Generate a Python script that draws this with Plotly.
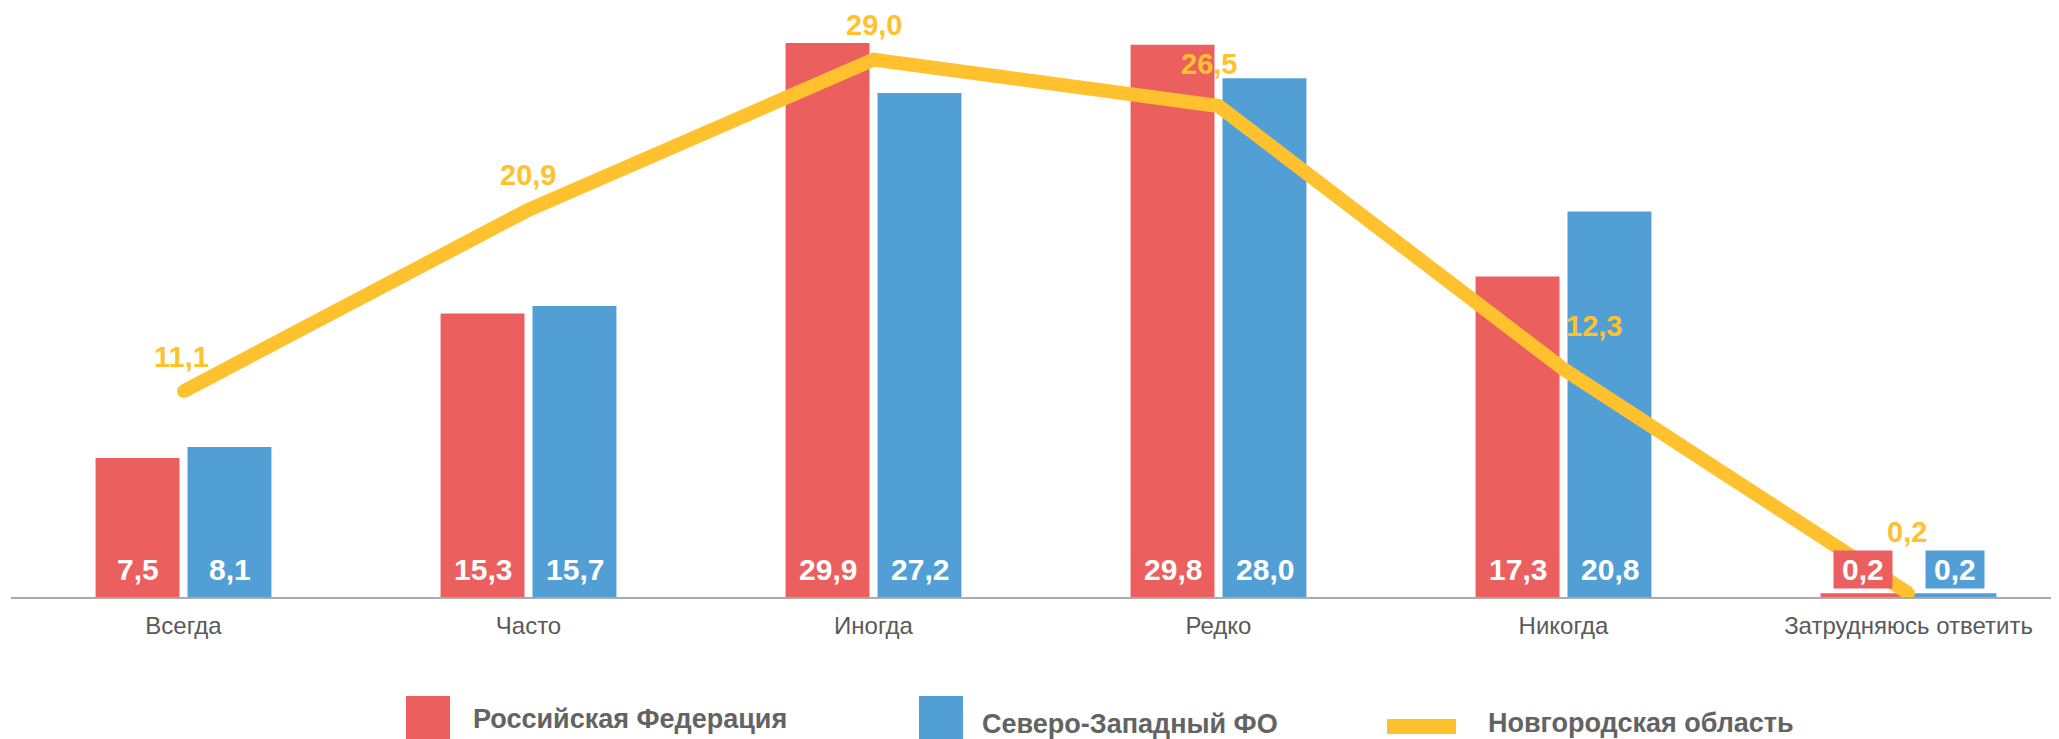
import plotly.graph_objects as go

categories = ["Всегда", "Часто", "Иногда", "Редко", "Никогда", "Затрудняюсь ответить"]
rf_values = [7.5, 15.3, 29.9, 29.8, 17.3, 0.2]
szfo_values = [8.1, 15.7, 27.2, 28.0, 20.8, 0.2]
nov_values = [11.1, 20.9, 29.0, 26.5, 12.3, 0.2]
series_names = ["Российская Федерация", "Северо-Западный ФО", "Новгородская область"]

RED = "#EB5F5F"
BLUE = "#529FD6"
YEL = "#FFC22E"
GREY = "#636363"
FONT = "Liberation Sans, Arial, sans-serif"

OFF = 8  # page body margin
W, H = 2059 - OFF, 739 - OFF
ML, MR, MT = 11 - OFF, 0, 4
PB = 597 - OFF  # plot bottom in figure pixels
MB = H - PB
PW, PH = W - ML - MR, H - MT - MB
YMAX = PH / 18.53
STEP = 345.0


def fmt(v):
    return f"{v:.1f}".replace(".", ",")


def px(xp):
    return (xp - OFF - ML) / PW


def py(yp):
    return (PB - (yp - OFF)) / PH


fig = go.Figure()
fig.add_bar(x=categories, y=rf_values, name=series_names[0], marker=dict(color=RED, line=dict(width=0)))
fig.add_bar(x=categories, y=szfo_values, name=series_names[1], marker=dict(color=BLUE, line=dict(width=0)))
fig.add_scatter(x=categories, y=nov_values, name=series_names[2], mode="lines+markers",
                line=dict(color=YEL, width=14), marker=dict(color=YEL, size=13, line=dict(width=0)))

annotations = []
# bar value labels
TS = "\u2009"
for vals, col, shift in ((rf_values, RED, -46), (szfo_values, BLUE, 46)):
    for c, v in zip(categories, vals):
        annotations.append(dict(x=c, y=0, xref="x", yref="y", text=f"<b>{TS}{fmt(v)}{TS}</b>", showarrow=False,
                                xanchor="center", yanchor="bottom", xshift=shift, yshift=8,
                                bgcolor=col, borderpad=2,
                                font=dict(family=FONT, size=30, color="white")))
# line value labels
line_xshift = [-2, -1, 0, -10, 30, -2]
line_yshift = [34, 35, 35, 42, 43, 61]
for c, v, dx, dy in zip(categories, nov_values, line_xshift, line_yshift):
    annotations.append(dict(x=c, y=v, xref="x", yref="y", text=f"<b>{fmt(v)}</b>", showarrow=False,
                            xanchor="center", yanchor="middle", xshift=dx, yshift=dy,
                            font=dict(family=FONT, size=29, color=YEL)))

# manual legend
shapes = [
    dict(type="rect", xref="paper", yref="paper", x0=px(406), x1=px(450), y0=py(696), y1=py(740),
         fillcolor=RED, line=dict(width=0)),
    dict(type="rect", xref="paper", yref="paper", x0=px(919), x1=px(963), y0=py(696), y1=py(740),
         fillcolor=BLUE, line=dict(width=0)),
    dict(type="rect", xref="paper", yref="paper", x0=px(1387), x1=px(1456), y0=py(719), y1=py(734),
         fillcolor=YEL, line=dict(width=0)),
]
for name, xl, yc in ((series_names[0], 471, 719), (series_names[1], 980, 724), (series_names[2], 1486, 723)):
    annotations.append(dict(x=px(xl), y=py(yc), xref="paper", yref="paper", text=f"<b>{name}</b>",
                            showarrow=False, xanchor="left", yanchor="middle",
                            font=dict(family=FONT, size=27, color=GREY)))

fig.update_layout(
    width=W, height=H,
    margin=dict(l=ML, r=MR, t=MT, b=MB, pad=0),
    paper_bgcolor="white", plot_bgcolor="white",
    barmode="group", bargap=0.467, bargroupgap=0.087,
    showlegend=False,
    annotations=annotations, shapes=shapes,
    font=dict(family=FONT, color=GREY),
)
fig.update_xaxes(type="category", range=[-0.5, -0.5 + PW / STEP],
                 showline=True, linecolor="#ABABAB", linewidth=2,
                 showgrid=False, zeroline=False, ticks="", tickfont=dict(family=FONT, size=24, color="#595959"),
                 ticklabelstandoff=6)
fig.update_yaxes(range=[0, YMAX], visible=False, showgrid=False, zeroline=False)

fig.write_html("out.html")
